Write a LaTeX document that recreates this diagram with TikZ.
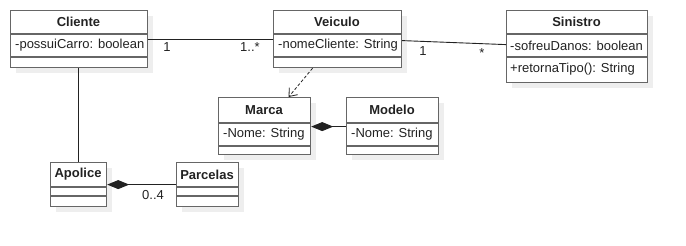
\documentclass[tikz,border=0pt]{standalone}
\usepackage{fontspec}
\setmainfont{Liberation Sans}
\usetikzlibrary{arrows.meta,shadows}
\definecolor{boxline}{HTML}{666666}
\definecolor{txt}{HTML}{222222}
\definecolor{shade}{HTML}{EEEEEE}
\begin{document}
\begin{tikzpicture}[x=1pt,y=-1pt,
  umlbox/.style={draw=boxline,line width=1.2pt,fill=white,anchor=north west,inner sep=0pt,
    drop shadow={shadow xshift=5pt,shadow yshift=-5pt,fill=shade,opacity=1}},
  divider/.style={draw=boxline,line width=1.2pt},
  title/.style={font=\fontsize{13}{15}\selectfont\bfseries,text=txt,inner sep=0pt},
  member/.style={font=\fontsize{13}{15}\selectfont,text=txt,inner sep=0pt,anchor=west},
  mult/.style={font=\fontsize{13}{15}\selectfont,text=txt,inner sep=0pt},
  assoc/.style={draw=txt,line width=0.9pt},
  compo/.style={draw=txt,line width=0.9pt,{Diamond[length=22pt,width=9pt]}-},
  depend/.style={draw=txt,line width=0.8pt,dash pattern=on 3pt off 2pt,-{Straight Barb[length=7pt,width=11pt]}}]
\useasboundingbox (0,0) rectangle (686,246);

% Cliente
\node[umlbox,minimum width=137pt,minimum height=57pt] (cliente) at (10,10) {};
\draw[divider] (10,34) -- (147,34) (10,57) -- (147,57);
\node[title] (clienteT) at (78.5,22) {Cliente};
\node[member] (clienteA) at (15,45.5) {-possuiCarro: boolean};

% Veiculo
\node[umlbox,minimum width=128pt,minimum height=57pt] (veiculo) at (273,10) {};
\draw[divider] (273,34) -- (401,34) (273,57) -- (401,57);
\node[title] (veiculoT) at (337,22) {Veiculo};
\node[member] (veiculoA) at (278,45.5) {-nomeCliente: String};

% Sinistro
\node[umlbox,minimum width=141pt,minimum height=72pt] (sinistro) at (506,10) {};
\draw[divider] (506,34) -- (647,34) (506,57) -- (647,57);
\node[title] (sinistroT) at (576.5,22) {Sinistro};
\node[member] (sinistroA) at (510,45.5) {-sofreuDanos: boolean};
\node[member] (sinistroO) at (510,69.5) {+retornaTipo(): String};

% Marca
\node[umlbox,minimum width=92pt,minimum height=57pt] (marca) at (218,97) {};
\draw[divider] (218,123) -- (310,123) (218,146) -- (310,146);
\node[title] (marcaT) at (264,110) {Marca};
\node[member] (marcaA) at (223,134.5) {-Nome: String};

% Modelo
\node[umlbox,minimum width=92pt,minimum height=57pt] (modelo) at (346,97) {};
\draw[divider] (346,123) -- (438,123) (346,146) -- (438,146);
\node[title] (modeloT) at (392,110) {Modelo};
\node[member] (modeloA) at (351,134.5) {-Nome: String};

% Apolice
\node[umlbox,minimum width=56pt,minimum height=44pt] (apolice) at (50,162) {};
\draw[divider] (50,187) -- (106,187) (50,196) -- (106,196);
\node[title] (apoliceT) at (78,174.5) {Apolice};

% Parcelas
\node[umlbox,minimum width=62pt,minimum height=44pt] (parcelas) at (176,162) {};
\draw[divider] (176,187) -- (238,187) (176,196) -- (238,196);
\node[title] (parcelasT) at (207,174.5) {Parcelas};

% Connectors
\draw[assoc] (cliente.east) -- (veiculo.west);
\node[mult] (m1) at (167,47) {1};
\node[mult] (m2) at (250,47) {1..*};

\draw[assoc] ([yshift=-1.5pt]veiculo.east) -- ([yshift=2pt]sinistro.west);
\node[mult] (m3) at (423,51) {1};
\node[mult] (m4) at (482,53) {*};

\draw[assoc] ([xshift=-0.5pt]cliente.south) -- (apolice.north);

\draw[depend] ([xshift=-25pt]veiculo.south) -- ([xshift=24pt]marca.north);

\draw[compo] ([yshift=-0.5pt]marca.east) -- ([yshift=-0.5pt]modelo.west);

\draw[compo] (apolice.east) -- (parcelas.west);
\node[mult] (m5) at (153,195) {0..4};
\end{tikzpicture}
\end{document}
